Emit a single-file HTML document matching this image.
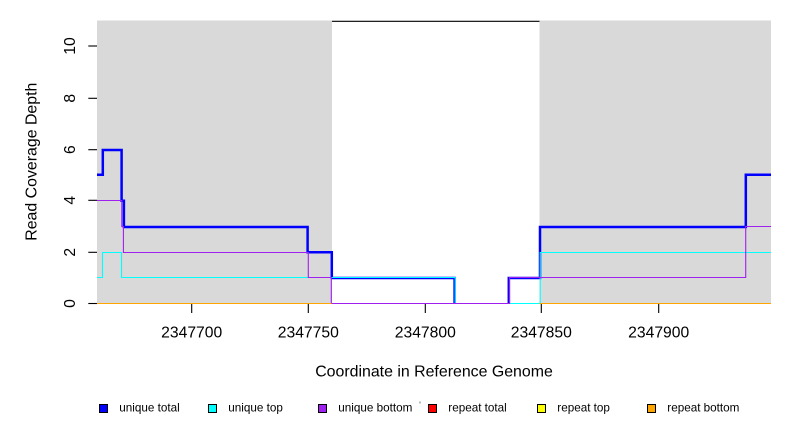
<!DOCTYPE html>
<html>
<head>
<meta charset="utf-8">
<style>
  html, body { margin:0; padding:0; background:#ffffff; }
  body { width:792px; height:432px; overflow:hidden; }
  svg { display:block; }
  text { font-family: "Liberation Sans", "DejaVu Sans", sans-serif; fill:#000; }
</style>
</head>
<body>
<svg width="792" height="432" viewBox="0 0 792 432" xmlns="http://www.w3.org/2000/svg">
  <defs>
    <clipPath id="plot">
      <rect x="97" y="21" width="674" height="283"/>
    </clipPath>
  </defs>

  <!-- plot box top (visible only in white region) -->
  <line x1="97" y1="21.3" x2="771" y2="21.3" stroke="#000" stroke-width="1.2"/>

  <!-- gray repeat regions -->
  <rect x="97" y="20.5" width="235" height="283" fill="#D9D9D9"/>
  <rect x="539.5" y="20.5" width="231.5" height="283" fill="#D9D9D9"/>

  <g clip-path="url(#plot)" fill="none" stroke-linejoin="miter" stroke-linecap="butt">
    <!-- unique total (blue, thick) -->
    <polyline stroke="#0000FF" stroke-width="2.5"
      points="97,174.7 102.8,174.7 102.8,150 121.6,150 121.6,200.8 123.9,200.8 123.9,227 307.6,227 307.6,252.3 331.8,252.3 331.8,278 454.6,278 454.6,306 508.8,306 508.8,278 540,278 540,227 745.8,227 745.8,174.8 772,174.8"/>
    <!-- unique top (cyan) -->
    <polyline stroke="#00FFFF" stroke-width="1.1"
      points="97,277.5 102.5,277.5 102.5,252.5 121.5,252.5 121.5,277.5 455.2,277.5 455.2,303.5 540.2,303.5 540.2,252.5 772,252.5"/>
    <!-- unique bottom (purple) -->
    <polyline stroke="#A020F0" stroke-width="1.1"
      points="97,200.5 121.8,200.5 121.8,226.5 123.4,226.5 123.4,252.5 308.3,252.5 308.3,277.5 331.3,277.5 331.3,303.5 509.6,303.5 509.6,277.5 745.7,277.5 745.7,226.5 772,226.5"/>
    <!-- repeat total / top / bottom (all zero in repeat regions) -->
    <line x1="97" y1="303.5" x2="331.5" y2="303.5" stroke="#FF0000" stroke-width="1.1"/>
    <line x1="539.5" y1="303.5" x2="772" y2="303.5" stroke="#FF0000" stroke-width="1.1"/>
    <line x1="97" y1="303.5" x2="331.5" y2="303.5" stroke="#FFFF00" stroke-width="1.1"/>
    <line x1="539.5" y1="303.5" x2="772" y2="303.5" stroke="#FFFF00" stroke-width="1.1"/>
    <line x1="97" y1="303.5" x2="331.5" y2="303.5" stroke="#FFA500" stroke-width="1.1"/>
    <line x1="539.5" y1="303.5" x2="772" y2="303.5" stroke="#FFA500" stroke-width="1.1"/>
  </g>

  <!-- y axis ticks -->
  <g stroke="#000" stroke-width="1.1">
    <line x1="88.3" y1="303.5" x2="97" y2="303.5"/>
    <line x1="88.3" y1="252.3" x2="97" y2="252.3"/>
    <line x1="88.3" y1="200.3" x2="97" y2="200.3"/>
    <line x1="88.3" y1="149.7" x2="97" y2="149.7"/>
    <line x1="88.3" y1="98.3" x2="97" y2="98.3"/>
    <line x1="88.3" y1="46" x2="97" y2="46"/>
  </g>
  <g font-size="15.7" text-anchor="middle">
    <text transform="translate(75,303.5) rotate(-90)">0</text>
    <text transform="translate(75,252.3) rotate(-90)">2</text>
    <text transform="translate(75,200.3) rotate(-90)">4</text>
    <text transform="translate(75,149.7) rotate(-90)">6</text>
    <text transform="translate(75,98.3) rotate(-90)">8</text>
    <text transform="translate(75,46) rotate(-90)">10</text>
  </g>

  <!-- x axis ticks -->
  <g stroke="#000" stroke-width="1.1">
    <line x1="191.7" y1="304" x2="191.7" y2="313"/>
    <line x1="308.3" y1="304" x2="308.3" y2="313"/>
    <line x1="425.3" y1="304" x2="425.3" y2="313"/>
    <line x1="541.3" y1="304" x2="541.3" y2="313"/>
    <line x1="658.7" y1="304" x2="658.7" y2="313"/>
  </g>
  <g font-size="15.7" text-anchor="middle">
    <text x="191.7" y="337.5">2347700</text>
    <text x="308.3" y="337.5">2347750</text>
    <text x="425.3" y="337.5">2347800</text>
    <text x="541.3" y="337.5">2347850</text>
    <text x="658.7" y="337.5">2347900</text>
  </g>

  <!-- axis titles -->
  <text x="434" y="376.5" font-size="15.9" text-anchor="middle">Coordinate in Reference Genome</text>
  <text transform="translate(36.7,161.7) rotate(-90)" font-size="15.9" text-anchor="middle">Read Coverage Depth</text>

  <!-- legend -->
  <g stroke="#000" stroke-width="1">
    <rect x="99.5" y="404.5" width="8" height="8" fill="#0000FF"/>
    <rect x="208.5" y="404.5" width="8" height="8" fill="#00FFFF"/>
    <rect x="318.5" y="404.5" width="8" height="8" fill="#A020F0"/>
    <rect x="428.5" y="404.5" width="8" height="8" fill="#FF0000"/>
    <rect x="537.5" y="404.5" width="8" height="8" fill="#FFFF00"/>
    <rect x="647.5" y="404.5" width="8" height="8" fill="#FFA500"/>
  </g>
  <rect x="419.5" y="401.5" width="1" height="2" fill="#777"/>
  <g font-size="11.7">
    <text x="119.3" y="411.5">unique total</text>
    <text x="228.3" y="411.5">unique top</text>
    <text x="338.3" y="411.5">unique bottom</text>
    <text x="448.3" y="411.5">repeat total</text>
    <text x="557.3" y="411.5">repeat top</text>
    <text x="667.3" y="411.5">repeat bottom</text>
  </g>
</svg>
</body>
</html>
